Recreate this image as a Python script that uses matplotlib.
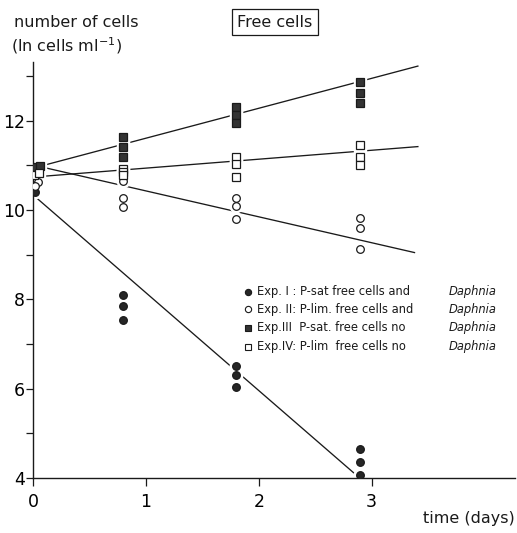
import matplotlib.pyplot as plt
import numpy as np

t_exp1 = [0.02, 0.8, 0.8, 0.8, 1.8, 1.8, 1.8, 2.9, 2.9, 2.9]
y_exp1 = [10.41, 8.1, 7.85, 7.55, 6.52, 6.31, 6.04, 4.66, 4.37, 4.07]

t_exp2 = [0.04, 0.02, 0.8, 0.8, 0.8, 1.8, 1.8, 1.8, 2.9, 2.9, 2.9]
y_exp2 = [10.62, 10.53, 10.65, 10.28, 10.08, 10.28, 10.1, 9.8, 9.82, 9.6, 9.12]

t_exp3 = [0.0, 0.06, 0.8, 0.8, 0.8, 1.8, 1.8, 1.8, 2.9, 2.9, 2.9]
y_exp3 = [10.97, 10.99, 11.63, 11.41, 11.2, 12.3, 12.13, 11.96, 12.87, 12.62, 12.4]

t_exp4 = [0.01, 0.05, 0.8, 0.8, 0.8, 1.8, 1.8, 1.8, 2.9, 2.9, 2.9]
y_exp4 = [10.78, 10.82, 10.92, 10.85, 10.78, 11.2, 11.04, 10.74, 11.45, 11.2, 11.02]

# fitted lines: intercept, slope, x range
fit_icpt = [10.34, 11.01, 10.94, 10.74]
fit_slope = [-2.19, -0.58, 0.67, 0.2]
fit_x0 = [0.02, 0.06, 0.06, 0.02]
fit_x1 = [2.84, 3.38, 3.41, 3.41]

legend_text = ["Exp. I : P-sat free cells and",
               "Exp. II: P-lim. free cells and",
               "Exp.III  P-sat. free cells no",
               "Exp.IV: P-lim  free cells no"]

ink = '#1a1a1a'
plt.rcParams['font.family'] = ['DejaVu Sans']

fig = plt.figure(figsize=(5.17, 5.33), dpi=100)
ax = fig.add_axes([0.064, 0.103, 0.932, 0.781])

series = [(t_exp1, y_exp1, 'o', '#262626'),
          (t_exp2, y_exp2, 'o', 'white'),
          (t_exp3, y_exp3, 's', '#333333'),
          (t_exp4, y_exp4, 's', 'white')]

for i in range(4):
    xs = np.array([fit_x0[i], fit_x1[i]])
    ax.plot(xs, fit_icpt[i] + fit_slope[i] * xs, color=ink, lw=0.95, zorder=2)

for t, y, m, fc in series:
    # white halo so lines break around the symbols
    ax.plot(t, y, ls='none', marker=m, ms=9, mfc='white', mec='white', zorder=2.2)
for t, y, m, fc in series:
    ax.plot(t, y, ls='none', marker=m, ms=5.5 if m == 'o' else 5.1,
            mfc=fc, mec=ink, mew=0.9, zorder=4)

ax.set_xlim(0, 4.27)
ax.set_ylim(4, 13.32)
ax.spines['top'].set_visible(False)
ax.spines['right'].set_visible(False)
for s in ['left', 'bottom']:
    ax.spines[s].set_linewidth(1.0)
    ax.spines[s].set_color(ink)

ax.set_xticks([0, 1, 2, 3])
ax.set_yticks([4, 6, 8, 10, 12])
ax.set_yticks([5, 7, 9, 11, 13], minor=True)
ax.tick_params(axis='both', which='both', direction='out', color=ink, width=0.9)
ax.tick_params(axis='y', which='both', length=5, pad=1, labelsize=12.5)
ax.tick_params(axis='x', length=6, pad=5, labelsize=12.5)

fig.text(0.027, 0.958, 'number of cells', fontsize=11.5, ha='left', va='center', color=ink)
fig.text(0.022, 0.915, r'(ln cells ml$^{-1}$)', fontsize=11.5, ha='left', va='center', color=ink)
fig.text(0.532, 0.958, 'Free cells', fontsize=11.5, ha='center', va='center', color=ink,
         bbox=dict(boxstyle='square,pad=0.35', fc='white', ec=ink, lw=0.9))
fig.text(0.996, 0.028, 'time (days)', fontsize=11.5, ha='right', va='center', color=ink)

# legend drawn by hand so "Daphnia" lines up in a column
leg_y = [0.448, 0.406, 0.361, 0.316]
for i, (t, y, m, fc) in enumerate(series):
    ax.plot([0.446], [leg_y[i]], transform=ax.transAxes, ls='none', marker=m,
            ms=4.5, mfc=fc, mec=ink, mew=0.8, clip_on=False)
    ax.text(0.465, leg_y[i], legend_text[i], transform=ax.transAxes, fontsize=8.3,
            va='center', ha='left', color=ink)
    ax.text(0.862, leg_y[i], 'Daphnia', transform=ax.transAxes, fontsize=8.3,
            va='center', ha='left', style='italic', color=ink)

fig.savefig('out.png', dpi=100)
